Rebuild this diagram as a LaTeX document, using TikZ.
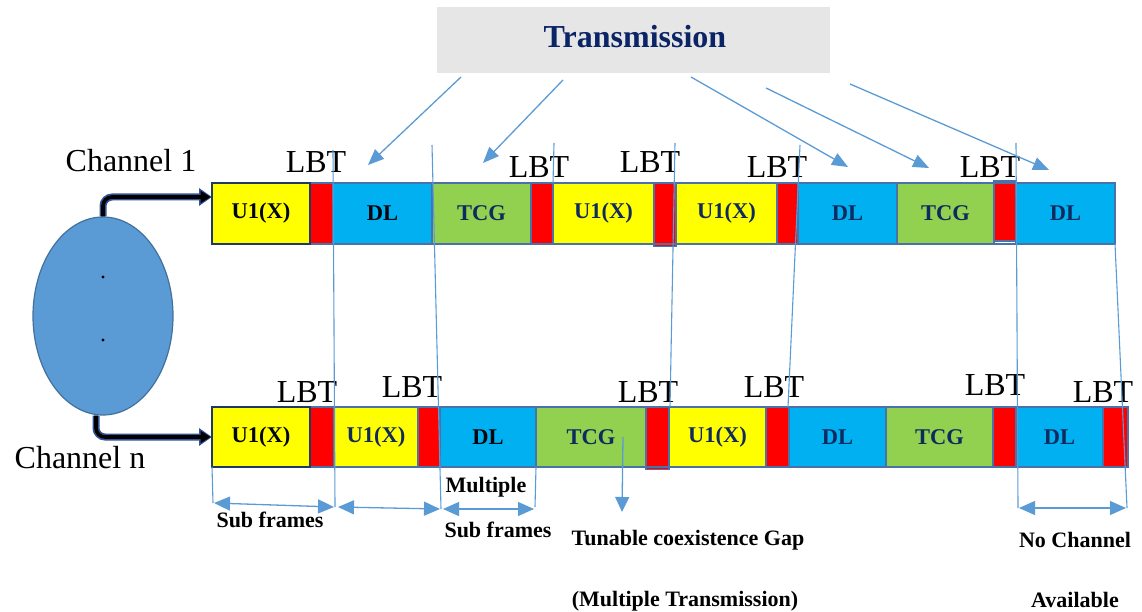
\documentclass[tikz,border=0pt]{standalone}
\usepackage{fontspec}
\setmainfont{Liberation Serif}
\usetikzlibrary{arrows.meta,shapes.geometric}

\definecolor{linkblue}{HTML}{5B9BD5}
\definecolor{edgeblue}{HTML}{4A72A8}
\definecolor{ovalblue}{HTML}{5B9BD5}
\definecolor{ovaledge}{HTML}{41719C}
\definecolor{navytxt}{HTML}{0E2A5E}
\definecolor{navyhead}{HTML}{0A2466}
\definecolor{firstedge}{HTML}{1F3864}
\definecolor{ulyellow}{HTML}{FFFF00}
\definecolor{lbtred}{HTML}{FF0000}
\definecolor{dlblue}{HTML}{00B0F0}
\definecolor{tcggreen}{HTML}{92D050}
\definecolor{headgray}{HTML}{E7E6E6}
\definecolor{chanedge}{HTML}{2F5597}

\tikzset{
  seg/.style={draw=edgeblue, line width=1.6pt, inner sep=0pt, outer sep=0pt,
    anchor=west, font=\fontsize{22.5}{24}\selectfont\bfseries, text=navytxt},
  rowone/.style={seg, minimum height=61pt},
  rowtwo/.style={seg, minimum height=60pt},
  darktext/.style={text=black!85!navytxt},
  lbt/.style={anchor=base, inner sep=0pt, font=\fontsize{32}{34}\selectfont},
  chan/.style={anchor=base, inner sep=0pt, font=\fontsize{32}{34}\selectfont},
  note/.style={anchor=base, inner sep=0pt, font=\fontsize{22}{24}\selectfont\bfseries},
  guide/.style={linkblue, line width=1.1pt},
  bluehead/.style={linkblue, line width=1.3pt, -{Triangle[length=16pt,width=13pt]}},
  spanarrow/.style={linkblue, line width=1.3pt,
    {Triangle[length=16pt,width=14pt]}-{Triangle[length=16pt,width=14pt]}},
}

\begin{document}
\begin{tikzpicture}[x=1pt,y=-1pt]
  \useasboundingbox (0,0) rectangle (1142,612);

  % ---- heading box ----
  \node[fill=headgray, minimum width=393pt, minimum height=66pt, inner sep=0pt]
    (head) at (633.5,40) {};
  \node[anchor=base, inner sep=0pt, text=navyhead,
        font=\fontsize{32}{34}\selectfont\bfseries] (headtxt) at (635,48) {Transmission};

  % ---- channel source ----
  \node[ellipse, draw=ovaledge, line width=1.2pt, fill=ovalblue,
        minimum width=140pt, minimum height=198pt, inner sep=0pt] (src) at (103,316) {};
  \fill (103,277) circle (1.6pt);
  \fill (103,340) circle (1.6pt);
  \node[chan] (ch1) at (131,172) {Channel 1};
  \node[chan] (chn) at (80,468) {Channel n};

  % ---- channel 1 frame ----
  \node[rowone, fill=ulyellow, draw=firstedge, darktext, minimum width=98pt] (a1) at (212,213.5) {U1(X)};
  \node[rowone, fill=lbtred,   minimum width=23pt]  (a2)  at (310,213.5) {};
  \node[rowone, fill=dlblue,   darktext, minimum width=99pt] (a3) at (333,213.5) {DL};
  \node[rowone, fill=tcggreen, minimum width=99pt]  (a4)  at (432,213.5) {TCG};
  \node[rowone, fill=lbtred,   minimum width=22pt]  (a5)  at (531,213.5) {};
  \node[rowone, fill=ulyellow, minimum width=101pt] (a6)  at (553,213.5) {U1(X)};
  \node[rowone, fill=lbtred,   minimum width=22pt, minimum height=64pt] (a7) at (654,214.5) {};
  \node[rowone, fill=ulyellow, minimum width=101pt] (a8)  at (676,213.5) {U1(X)};
  \node[rowone, fill=lbtred,   minimum width=21pt]  (a9)  at (777,213.5) {};
  \node[rowone, fill=dlblue,   minimum width=99pt]  (a10) at (798,213.5) {DL};
  \node[rowone, fill=tcggreen, minimum width=97pt]  (a11) at (897,213.5) {TCG};
  \node[rowone, fill=lbtred,   minimum width=22pt, minimum height=60pt] (a12) at (994,211) {};
  \node[rowone, fill=dlblue,   minimum width=99pt]  (a13) at (1016,213.5) {DL};
  \draw[edgeblue, line width=2.2pt] (a1.north west) rectangle (a13.south east);
  \draw[firstedge, line width=2.2pt] (a1.north west) rectangle (a1.south east);

  % ---- channel n frame ----
  \node[rowtwo, fill=ulyellow, draw=firstedge, darktext, minimum width=98pt] (b1) at (212,437) {U1(X)};
  \node[rowtwo, fill=lbtred,   minimum width=24pt]  (b2)  at (310,437) {};
  \node[rowtwo, fill=ulyellow, minimum width=84pt]  (b3)  at (334,437) {U1(X)};
  \node[rowtwo, fill=lbtred,   minimum width=22pt]  (b4)  at (418,437) {};
  \node[rowtwo, fill=dlblue,   darktext, minimum width=96pt] (b5) at (440,437) {DL};
  \node[rowtwo, fill=tcggreen, minimum width=110pt] (b6)  at (536,437) {TCG};
  \node[rowtwo, fill=lbtred,   minimum width=23pt, minimum height=63pt] (b7) at (646,438) {};
  \node[rowtwo, fill=ulyellow, minimum width=97pt]  (b8)  at (669,437) {U1(X)};
  \node[rowtwo, fill=lbtred,   minimum width=23pt]  (b9)  at (766,437) {};
  \node[rowtwo, fill=dlblue,   minimum width=97pt]  (b10) at (789,437) {DL};
  \node[rowtwo, fill=tcggreen, minimum width=107pt] (b11) at (886,437) {TCG};
  \node[rowtwo, fill=lbtred,   minimum width=23pt]  (b12) at (993,437) {};
  \node[rowtwo, fill=dlblue,   minimum width=87pt]  (b13) at (1016,437) {DL};
  \node[rowtwo, fill=lbtred,   minimum width=25pt]  (b14) at (1103,437) {};
  \draw[edgeblue, line width=2.2pt] (b1.north west) rectangle (b14.south east);
  \draw[firstedge, line width=2.2pt] (b1.north west) rectangle (b1.south east);

  % ---- channel arrows from the source ----
  \coordinate (in1) at ([yshift=-14pt]a1.north west);
  \coordinate (srcb) at ([xshift=-7pt]src.south);
  \draw[chanedge, line width=7pt, rounded corners=9pt,
        -{Triangle[length=13pt,width=17pt]}] (src.north) |- (in1);
  \draw[black, line width=3.6pt, rounded corners=9pt, shorten >=1.5pt,
        -{Triangle[length=10pt,width=12pt]}] (src.north) |- (in1);
  \draw[chanedge, line width=7pt, rounded corners=9pt,
        -{Triangle[length=13pt,width=17pt]}] (srcb) |- (b1.west);
  \draw[black, line width=3.6pt, rounded corners=9pt, shorten >=1.5pt,
        -{Triangle[length=10pt,width=12pt]}] (srcb) |- (b1.west);

  % ---- LBT labels ----
  \node[lbt] (l11) at (316,173) {LBT};
  \node[lbt] (l12) at (539,178) {LBT};
  \node[lbt] (l13) at (650,173) {LBT};
  \node[lbt] (l14) at (777,178) {LBT};
  \node[lbt] (l15) at (990,178) {LBT};
  \node[lbt] (l21) at (307,402) {LBT};
  \node[lbt] (l22) at (412,397) {LBT};
  \node[lbt] (l23) at (648,402) {LBT};
  \node[lbt] (l24) at (774,397) {LBT};
  \node[lbt] (l25) at (995,395) {LBT};
  \node[lbt] (l26) at (1103,402) {LBT};

  % ---- alignment guides between the two frames ----
  \coordinate (g1t) at (333,150);  \coordinate (g1b) at (335,507);
  \coordinate (g2t) at (432,145);  \coordinate (g2b) at (441,509);
  \coordinate (g3t) at (675,143);  \coordinate (g3b) at (670,407);
  \coordinate (g4t) at (800,145);  \coordinate (g4b) at (788,407);
  \coordinate (g5t) at (1016,143); \coordinate (g5b) at (1018,508);
  \coordinate (g6t) at (1115,244); \coordinate (g6b) at (1127,508);
  \coordinate (g7t) at (554,143);
  \coordinate (g0b) at (213,503);
  \coordinate (g8b) at (535,507);
  \draw[guide] (g1t) -- (g1b);
  \draw[guide] (g2t) -- (g2b);
  \draw[guide] (g3t) -- (g3b);
  \draw[guide] (g4t) -- (g4b);
  \draw[guide] (g5t) -- (g5b);
  \draw[guide] (g6t) -- (g6b);
  \draw[guide] (g7t) -- (a5.north east);
  \draw[guide] (b1.south west) -- (g0b);
  \draw[guide] (b5.south east) -- (g8b);

  % ---- arrows from the heading ----
  \coordinate (t1) at (461,77);  \coordinate (h1) at (368,165);
  \coordinate (t2) at (563,80);  \coordinate (h2) at (483,163);
  \coordinate (t3) at (691,77);  \coordinate (h3) at (848,167);
  \coordinate (t4) at (766,88);  \coordinate (h4) at (929,168);
  \coordinate (t5) at (850,84);  \coordinate (h5) at (1049,170);
  \draw[bluehead] (t1) -- (h1);
  \draw[bluehead] (t2) -- (h2);
  \draw[bluehead] (t3) -- (h3);
  \draw[bluehead] (t4) -- (h4);
  \draw[bluehead] (t5) -- (h5);

  % ---- spans below channel n ----
  \coordinate (s1a) at (214,503); \coordinate (s1b) at (334,507);
  \coordinate (s2a) at (338,507); \coordinate (s2b) at (440,509);
  \coordinate (s3a) at (443,509); \coordinate (s3b) at (534,509);
  \coordinate (s4a) at (1019,508); \coordinate (s4b) at (1126,508);
  \draw[spanarrow] (s1a) -- (s1b);
  \draw[spanarrow] (s2a) -- (s2b);
  \draw[spanarrow] (s3a) -- (s3b);
  \draw[spanarrow] (s4a) -- (s4b);

  \coordinate (gapt) at (623,437); \coordinate (gaph) at (622,512);
  \draw[linkblue, line width=1.3pt, -{Triangle[length=15pt,width=14pt]}] (gapt) -- (gaph);

  % ---- notes ----
  \node[note] (n1) at (270,527) {Sub frames};
  \node[note] (n2) at (486,492) {Multiple};
  \node[note] (n3) at (498,537) {Sub frames};
  \node[note] (n4) at (688,545) {Tunable coexistence Gap};
  \node[note] (n5) at (685,606) {(Multiple Transmission)};
  \node[note] (n6) at (1075,547) {No Channel};
  \node[note] (n7) at (1075,607) {Available};
\end{tikzpicture}
\end{document}
